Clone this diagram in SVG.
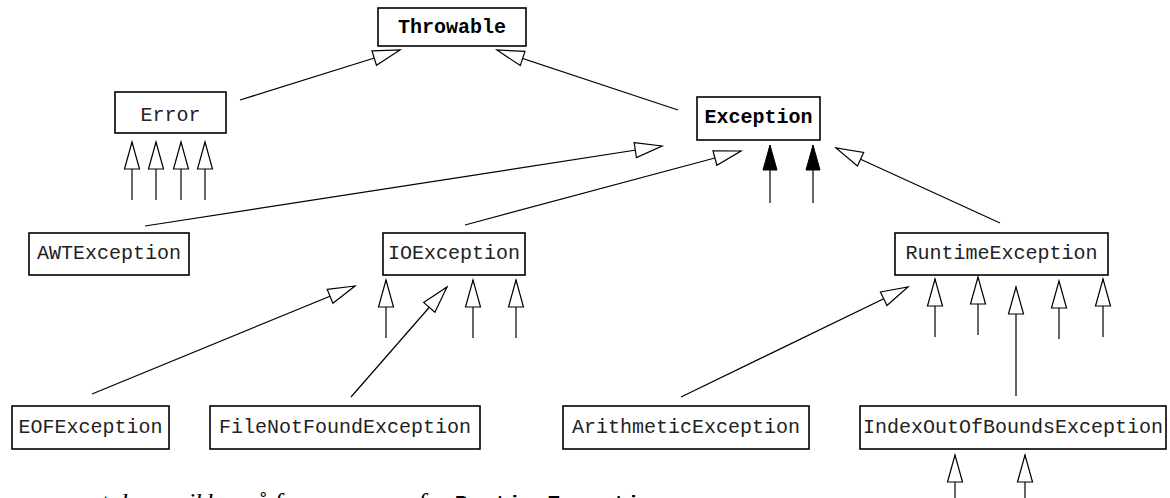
<svg xmlns="http://www.w3.org/2000/svg" width="1170" height="498" viewBox="0 0 1170 498">
<style>
.box{fill:#fff;stroke:#000;stroke-width:1.6}
.lbl{font-family:"Liberation Mono","Courier New",monospace;font-size:20px;fill:#222;text-anchor:middle}
.b{font-weight:bold;fill:#000}
.c line{stroke:#000;stroke-width:1.2}
.h{marker-end:url(#hollow)}
.f{marker-end:url(#filled)}
.cap{font-family:"Liberation Serif","Times New Roman",serif;font-style:italic;font-size:26px;fill:#000}
.capm{font-family:"Liberation Mono","Courier New",monospace;font-weight:bold;font-style:normal;font-size:22px}
</style>
<defs>
<marker id="hollow" markerUnits="userSpaceOnUse" viewBox="-2 -10 31 20" markerWidth="31" markerHeight="20" refX="27" refY="0" orient="auto">
<path d="M0,-7.5 L27,0 L0,7.5 Z" fill="#fff" stroke="#000" stroke-width="1.2" stroke-linejoin="miter"/>
</marker>
<marker id="filled" markerUnits="userSpaceOnUse" viewBox="-2 -10 31 20" markerWidth="31" markerHeight="20" refX="25" refY="0" orient="auto">
<path d="M0,-7 L25,0 L0,7 Z" fill="#000" stroke="#000" stroke-width="1"/>
</marker>
</defs>
<rect width="1170" height="498" fill="#fff"/>
<g class="c" id="connectors">
<line class="h" x1="240" y1="100" x2="400" y2="50"/>
<line class="h" x1="678" y1="110" x2="497" y2="50"/>
<line class="h" x1="145" y1="226" x2="662" y2="146"/>
<line class="h" x1="465" y1="225" x2="741" y2="151"/>
<line class="h" x1="1000" y1="223" x2="836" y2="148"/>
<line class="f" x1="770" y1="203" x2="770" y2="145"/>
<line class="f" x1="813" y1="203" x2="813" y2="145"/>
<line class="h" x1="132" y1="200" x2="132" y2="142"/>
<line class="h" x1="156" y1="200" x2="156" y2="142"/>
<line class="h" x1="181" y1="200" x2="181" y2="142"/>
<line class="h" x1="205" y1="200" x2="205" y2="142"/>
<line class="h" x1="92" y1="394" x2="355" y2="286"/>
<line class="h" x1="351" y1="397" x2="447" y2="287"/>
<line class="h" x1="386" y1="338" x2="386" y2="280"/>
<line class="h" x1="473" y1="338" x2="473" y2="280"/>
<line class="h" x1="516" y1="338" x2="516" y2="280"/>
<line class="h" x1="681" y1="397" x2="908" y2="287"/>
<line class="h" x1="935" y1="337" x2="935" y2="279"/>
<line class="h" x1="978" y1="335" x2="978" y2="277"/>
<line class="h" x1="1016" y1="396" x2="1016" y2="287"/>
<line class="h" x1="1059" y1="339" x2="1059" y2="281"/>
<line class="h" x1="1103" y1="337" x2="1103" y2="279"/>
<line class="h" x1="955" y1="510" x2="955" y2="455"/>
<line class="h" x1="1025" y1="510" x2="1025" y2="455"/>
</g>
<g id="Throwable"><rect class="box" x="378" y="8" width="148" height="38"/><text class="lbl b" x="452" y="33">Throwable</text></g>
<g id="Error"><rect class="box" x="115" y="92" width="111" height="41"/><text class="lbl" x="170.5" y="121">Error</text></g>
<g id="Exception"><rect class="box" x="697" y="97" width="123" height="43"/><text class="lbl b" x="758.5" y="123">Exception</text></g>
<g id="AWTException"><rect class="box" x="29" y="233" width="160" height="42"/><text class="lbl" x="109" y="259">AWTException</text></g>
<g id="IOException"><rect class="box" x="383" y="233" width="142" height="42"/><text class="lbl" x="454" y="259">IOException</text></g>
<g id="RuntimeException"><rect class="box" x="895" y="233" width="213" height="42"/><text class="lbl" x="1001.5" y="259">RuntimeException</text></g>
<g id="EOFException"><rect class="box" x="12" y="406" width="157" height="43"/><text class="lbl" x="90.5" y="433">EOFException</text></g>
<g id="FileNotFoundException"><rect class="box" x="210" y="406" width="270" height="43"/><text class="lbl" x="345" y="433">FileNotFoundException</text></g>
<g id="ArithmeticException"><rect class="box" x="563" y="406" width="246" height="43"/><text class="lbl" x="686" y="433">ArithmeticException</text></g>
<g id="IndexOutOfBoundsException"><rect class="box" x="860" y="406" width="306" height="43"/><text class="lbl" x="1013" y="433">IndexOutOfBoundsException</text></g>
<text class="cap" x="62" y="511">unntak som ikke må fanges, arver fra <tspan class="capm">RuntimeException</tspan></text>
</svg>
